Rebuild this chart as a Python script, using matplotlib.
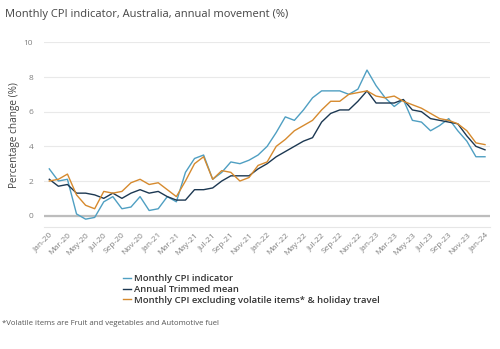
import matplotlib
matplotlib.use("Agg")
import matplotlib.pyplot as plt

plt.rcParams["font.family"] = ["Open Sans", "DejaVu Sans"]

months = ["Jan", "Feb", "Mar", "Apr", "May", "Jun",
          "Jul", "Aug", "Sep", "Oct", "Nov", "Dec"]
periods = [f"{m}-{y}" for y in range(20, 24) for m in months] + ["Jan-24"]

monthly_cpi = [2.7, 2.0, 2.1, 0.1, -0.2, -0.1, 0.8, 1.1, 0.4, 0.5, 1.1, 0.3,
               0.4, 1.1, 0.8, 2.5, 3.3, 3.5, 2.1, 2.5, 3.1, 3.0, 3.2, 3.5,
               4.0, 4.8, 5.7, 5.5, 6.1, 6.8, 7.2, 7.2, 7.2, 7.0, 7.3, 8.4,
               7.5, 6.8, 6.3, 6.7, 5.5, 5.4, 4.9, 5.2, 5.6, 4.9, 4.3, 3.4,
               3.4]
trimmed_mean = [2.1, 1.7, 1.8, 1.3, 1.3, 1.2, 1.0, 1.3, 1.0, 1.3, 1.5, 1.3,
                1.4, 1.1, 0.9, 0.9, 1.5, 1.5, 1.6, 2.0, 2.3, 2.3, 2.3, 2.7,
                3.0, 3.4, 3.7, 4.0, 4.3, 4.5, 5.4, 5.9, 6.1, 6.1, 6.6, 7.2,
                6.5, 6.5, 6.5, 6.7, 6.1, 6.0, 5.6, 5.5, 5.4, 5.3, 4.6, 4.0,
                3.8]
excl_volatile = [2.0, 2.1, 2.4, 1.2, 0.6, 0.4, 1.4, 1.3, 1.4, 1.9, 2.1, 1.8,
                 1.9, 1.5, 1.1, 2.0, 3.0, 3.4, 2.1, 2.6, 2.5, 2.0, 2.2, 2.9,
                 3.1, 4.0, 4.4, 4.9, 5.2, 5.5, 6.1, 6.6, 6.6, 7.0, 7.1, 7.2,
                 6.9, 6.8, 6.9, 6.6, 6.4, 6.2, 5.9, 5.6, 5.5, 5.3, 4.9, 4.2,
                 4.1]

series_names = ["Monthly CPI indicator", "Annual Trimmed mean",
                "Monthly CPI excluding volatile items* & holiday travel"]
colors = ["#4f9fc2", "#1c3852", "#d68a2e"]

x = list(range(len(periods)))

fig = plt.figure(figsize=(5, 3.49), dpi=100)
ax = fig.add_axes([0.0886, 0.3487, 0.8914, 0.530])

lines = []
for values, name, color in zip([monthly_cpi, trimmed_mean, excl_volatile], series_names, colors):
    ln, = ax.plot(x, values, color=color, linewidth=1.0, label=name, zorder=3)
    lines.append(ln)

ax.set_xlim(-0.55, len(periods) - 0.45)
ax.set_ylim(-0.67, 10)
ax.set_yticks([0, 2, 4, 6, 8, 10])
ax.grid(axis="y", color="#e9e9e9", linewidth=0.8)
ax.axhline(0, color="#bdbdbd", linewidth=1.6, zorder=2)
ax.set_axisbelow(True)

for side in ["top", "right", "left"]:
    ax.spines[side].set_visible(False)
ax.spines["bottom"].set_color("#e6e6e6")
ax.spines["bottom"].set_linewidth(0.8)

ax.set_xticks(x[::2])
ax.set_xticklabels(periods[::2], rotation=45, ha="right", rotation_mode="anchor")
ax.tick_params(axis="both", length=0, colors="#808080", labelsize=6)
ax.tick_params(axis="x", pad=3)
ax.tick_params(axis="y", pad=8)

ax.set_ylabel("Percentage change (%)", fontsize=7.2, color="#444444", labelpad=3)

fig.text(0.01, 0.958, "Monthly CPI indicator, Australia, annual movement (%)",
         fontsize=8, color="#444444", va="center")

fig.legend(handles=lines, loc="upper left", bbox_to_anchor=(0.246, 0.215),
           frameon=False, handlelength=0.8, handletextpad=0.4,
           labelspacing=0.2, borderpad=0, borderaxespad=0,
           prop={"weight": "semibold", "size": 6.8})
for t in fig.legends[0].get_texts():
    t.set_color("#333333")

fig.text(0.004, 0.072, "*Volatile items are Fruit and vegetables and Automotive fuel",
         fontsize=5.6, color="#555555", va="center")

fig.savefig("out.png", dpi=100)
